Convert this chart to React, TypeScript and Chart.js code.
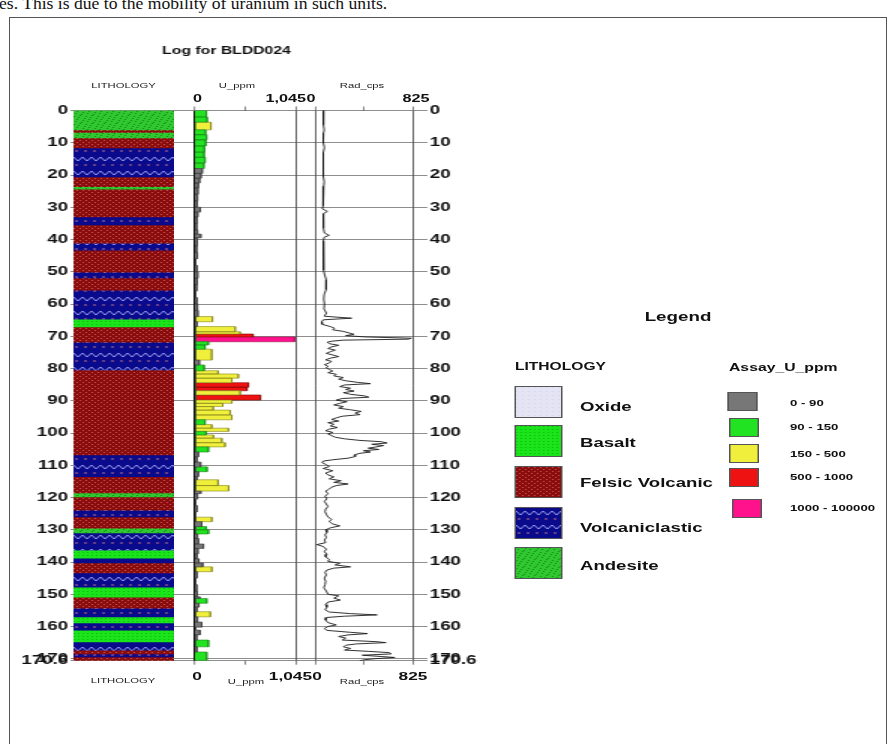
import React, { useEffect, useMemo, useRef } from 'react';
import { Chart, registerables } from 'chart.js';

Chart.register(...registerables);

// ---------------- data ----------------
const depthMax = 170.6;
const depthTicks = [0, 10, 20, 30, 40, 50, 60, 70, 80, 90, 100, 110, 120, 130, 140, 150, 160, 170, 170.6];

const lithologyNames = ['Oxide', 'Basalt', 'Felsic Volcanic', 'Volcaniclastic', 'Andesite'];

const lithologyBreaks = [
  0, 6, 6.8, 8.5, 11.6, 20.6, 23.6, 24.4, 33, 35.5,
  41.1, 43.3, 50.1, 51.9, 55.7, 64.7, 67.1, 71.8, 80.4, 106.8,
  113.5, 118.6, 119.8, 123.9, 126, 129.5, 131, 136.3, 138.8, 140.3,
  143.4, 147.8, 150.9, 154.3, 157, 158.9, 161.1, 164.8, 167.3, 168.5,
  169.4, 170.6,
];
const lithologyType = [
  'Andesite', 'Felsic Volcanic', 'Andesite', 'Felsic Volcanic', 'Volcaniclastic',
  'Felsic Volcanic', 'Andesite', 'Felsic Volcanic', 'Volcaniclastic', 'Felsic Volcanic',
  'Volcaniclastic', 'Felsic Volcanic', 'Volcaniclastic', 'Felsic Volcanic', 'Volcaniclastic',
  'Basalt', 'Felsic Volcanic', 'Volcaniclastic', 'Felsic Volcanic', 'Volcaniclastic',
  'Felsic Volcanic', 'Andesite', 'Felsic Volcanic', 'Volcaniclastic', 'Felsic Volcanic',
  'Andesite', 'Volcaniclastic', 'Basalt', 'Volcaniclastic', 'Felsic Volcanic',
  'Volcaniclastic', 'Basalt', 'Felsic Volcanic', 'Volcaniclastic', 'Basalt',
  'Volcaniclastic', 'Basalt', 'Volcaniclastic', 'Felsic Volcanic', 'Volcaniclastic',
  'Felsic Volcanic',
];

const assayBreaks = [
  0, 2, 3.6, 6, 7.5, 9.1, 11, 12.9, 14.5, 16.3,
  18, 19.5, 21, 22.5, 24, 26, 28, 30, 31.5, 33,
  35, 37, 38.3, 39.5, 42, 44, 46, 48, 50, 52,
  54, 56, 58, 60, 62, 63.9, 65.5, 67, 68.6, 69.3,
  70.2, 71.7, 72.7, 74, 77.4, 78.9, 80.7, 81.7, 83, 84.4,
  85.8, 86.9, 88.2, 89.8, 90.8, 91.8, 92.9, 94.4, 95.9, 97.4,
  98.5, 99.5, 100.6, 101.6, 103, 104.3, 105.9, 107.4, 109, 110.5,
  112, 113.5, 114.5, 116.3, 118, 118.8, 120.5, 122.5, 124.5, 126.1,
  127.5, 129, 130, 131.3, 132.7, 134.4, 135.8, 137.5, 139, 140.3,
  141.5, 143, 145, 147, 149, 150.8, 151.3, 152.8, 154, 155.4,
  157, 158.6, 160.2, 161.1, 162.6, 164.2, 166.3, 167.9, 170.5,
];
const assayU = [
  118, 126, 165, 110, 120, 112, 98, 95, 104, 92,
  75, 62, 48, 35, 30, 25, 22, 55, 28, 20,
  18, 25, 60, 22, 18, 24, 15, 20, 28, 22,
  18, 15, 20, 25, 30, 181, 20, 418, 470, 603,
  1035, 139, 104, 174, 45, 95, 240, 450, 383, 555,
  540, 470, 680, 383, 289, 190, 366, 383, 104, 175,
  348, 115, 192, 279, 313, 139, 35, 20, 58, 125,
  35, 20, 240, 350, 60, 25, 15, 20, 12, 175,
  70, 115, 140, 25, 35, 87, 30, 20, 40, 80,
  175, 20, 15, 18, 22, 50, 122, 40, 20, 160,
  25, 70, 15, 52, 18, 140, 20, 122,
];
const assayBinLabels = ['0 - 90', '90 - 150', '150 - 500', '500 - 1000', '1000 - 100000'];
const assayBinMin = [0, 90, 150, 500, 1000];
const assayBinColors = ['#777777', '#22e322', '#f0f03c', '#ee1212', '#ff128c'];
const assayBinBorders = ['#3c3c3c', '#158a15', '#85851c', '#870a0a', '#a0104f'];
const uTicks = [0, 522.5, 1045];

const radDepth = [
  0, 1.5, 3, 4.5, 6, 7, 8.5, 10, 11.5, 13,
  14.5, 16, 17.5, 19, 20.5, 22, 23.5, 25, 26.5, 28,
  29.5, 30.5, 31.3, 32, 33.5, 35, 36.5, 38, 38.7, 39.3,
  40.5, 42, 43.5, 45, 46.5, 48, 49.5, 51, 52.5, 54,
  55.5, 57, 58.5, 60, 61.5, 62.8, 63.8, 64.4, 64.9, 65.6,
  66.3, 67, 67.5, 68, 68.5, 69, 69.4, 69.8, 70.2, 70.6,
  70.9, 71.2, 71.5, 71.8, 72.3, 72.8, 73.3, 73.8, 74.3, 74.8,
  75.3, 75.8, 76.3, 76.8, 77.3, 77.8, 78.3, 78.8, 79.3, 79.8,
  80.3, 80.8, 81.3, 81.8, 82.3, 82.8, 83.3, 83.8, 84.3, 84.7,
  85.1, 85.6, 86.1, 86.5, 87, 87.5, 88, 88.5, 88.9, 89.3,
  89.8, 90.3, 90.8, 91.3, 91.8, 92.3, 92.8, 93.3, 93.8, 94.3,
  94.8, 95.3, 95.8, 96.3, 96.8, 97.3, 97.8, 98.3, 98.8, 99.3,
  99.8, 100.3, 100.8, 101.3, 101.8, 102.3, 102.7, 103.1, 103.5, 103.9,
  104.3, 104.7, 105.1, 105.5, 105.9, 106.3, 106.8, 107.3, 107.8, 108.3,
  108.7, 109.2, 109.8, 110.4, 111, 111.7, 112.4, 113, 113.6, 114.2,
  114.8, 115.3, 115.8, 116.3, 116.8, 117.4, 118, 118.8, 119.6, 120.4,
  121.2, 122, 122.8, 123.6, 124.4, 125.2, 126, 126.8, 127.5, 128.2,
  128.8, 129.4, 130, 130.8, 131.6, 132.4, 133.2, 134, 134.6, 135.2,
  136, 136.8, 137.6, 138.4, 139.2, 139.8, 140.4, 140.9, 141.5, 141.9,
  142.5, 143.2, 144, 145, 146, 147, 148, 149, 150, 150.5,
  151.2, 151.8, 152.4, 153.2, 154, 154.8, 155.5, 156, 156.4, 156.8,
  157.2, 158, 158.8, 159.5, 160, 160.6, 161.2, 161.8, 162.2, 162.6,
  163.1, 163.6, 164.2, 164.7, 165, 165.4, 165.8, 166.3, 166.8, 167.3,
  167.7, 168.1, 168.5, 168.9, 169.3, 169.6, 170, 170.3, 170.6,
];
const radCps = [
  72, 68, 75, 70, 78, 72, 66, 74, 80, 70,
  68, 76, 72, 65, 70, 78, 74, 70, 66, 72,
  68, 62, 105, 70, 74, 68, 72, 80, 120, 78,
  70, 74, 68, 72, 76, 70, 74, 82, 95, 90,
  98, 78, 74, 80, 76, 96, 80, 310, 70, 55,
  60, 130, 165, 150, 240, 290, 330, 260, 420, 815,
  790, 240, 150, 105, 120, 200, 140, 110, 170, 130,
  95, 150, 200, 130, 90, 140, 120, 80, 110, 95,
  120, 150, 110, 180, 160, 240, 200, 260, 360, 470,
  250, 210, 300, 260, 330, 240, 300, 420, 455, 230,
  180, 270, 210, 160, 240, 200, 300, 390, 340, 380,
  230, 180, 140, 200, 110, 160, 130, 190, 120, 90,
  150, 110, 140, 170, 250, 380, 560, 610, 480, 580,
  520, 450, 540, 410, 470, 380, 330, 340, 280, 150,
  70, 60, 95, 120, 70, 150, 90, 110, 160, 120,
  220, 160, 280, 180, 140, 120, 90, 110, 85, 100,
  80, 95, 110, 90, 85, 95, 110, 140, 120, 150,
  210, 130, 90, 100, 85, 95, 80, 90, 15, 70,
  95, 80, 100, 90, 120, 110, 210, 170, 300, 160,
  100, 85, 95, 80, 90, 85, 75, 95, 110, 200,
  160, 215, 110, 90, 100, 85, 120, 300, 525, 250,
  100, 90, 110, 180, 110, 80, 100, 300, 445, 280,
  200, 260, 230, 520, 600, 350, 260, 240, 300, 250,
  450, 630, 645, 400, 560, 675, 500, 420, 380,
];
const radTicks = [0, 412.5, 825];

// ---------------- layout constants ----------------
const S = 1.5; // the figure is stretched horizontally
const FONT = '"Liberation Sans", Arial, Helvetica, sans-serif';
const PLOT_TOP = 110.5;
const PLOT_BOTTOM = 744 - 660.7;
const A_LEFT = -22.63; // depth-axis canvas offset (virtual px)
const A_W = 348;

function makeTile(kind: string): HTMLCanvasElement {
  const c = document.createElement('canvas');
  const dims: Record<string, number[]> = {
    Oxide: [4, 4], Basalt: [3, 3], 'Felsic Volcanic': [4, 4], Volcaniclastic: [6, 14], Andesite: [8, 8],
  };
  const [w, h] = dims[kind];
  c.width = w;
  c.height = h;
  const g = c.getContext('2d')!;
  if (kind === 'Oxide') {
    g.fillStyle = '#e4e4f4'; g.fillRect(0, 0, w, h);
    g.fillStyle = '#d6d6ea'; g.fillRect(0, 0, 1, 1);
  } else if (kind === 'Basalt') {
    g.fillStyle = '#1ae41a'; g.fillRect(0, 0, w, h);
    g.fillStyle = '#10bb10'; g.fillRect(0, 0, 1, 1);
  } else if (kind === 'Felsic Volcanic') {
    g.fillStyle = '#8a0c0c'; g.fillRect(0, 0, w, h);
    g.fillStyle = '#c25454'; g.fillRect(0, 0, 1, 1); g.fillRect(2, 2, 1, 1);
  } else if (kind === 'Volcaniclastic') {
    g.fillStyle = '#0a0a8c'; g.fillRect(0, 0, w, h);
    g.strokeStyle = '#b4bcff'; g.lineWidth = 0.8;
    g.beginPath(); g.moveTo(0, 3); g.lineTo(3, 7); g.lineTo(6, 3); g.stroke();
    g.fillStyle = '#c07080'; g.fillRect(1, 10.5, 2, 1);
  } else {
    g.fillStyle = '#30c830'; g.fillRect(0, 0, w, h);
    g.fillStyle = '#178a17';
    [[1, 1], [5, 2], [3, 5], [7, 6], [0, 4], [6, 0], [2, 7], [4, 3]].forEach(([x, y]) => g.fillRect(x, y, 1, 1));
  }
  return c;
}

function binOf(v: number) {
  let b = 0;
  for (let i = 0; i < assayBinMin.length; i++) if (v >= assayBinMin[i]) b = i;
  return b;
}

function Label(props: any) {
  const { x, y, children, size, bold = true, align = 'center', color = '#111' } = props;
  const tx = align === 'center' ? '-50%' : align === 'right' ? '-100%' : '0';
  return (
    <div
      style={{
        position: 'absolute', left: x / S, top: y, transform: `translate(${tx}, -50%)`,
        fontFamily: FONT, fontSize: size, fontWeight: bold ? 700 : 400, color,
        whiteSpace: 'nowrap', lineHeight: 1,
      }}
    >
      {children}
    </div>
  );
}

const baseOpts = (padding: any) => ({
  responsive: false,
  animation: false,
  events: [],
  layout: { padding },
  plugins: { legend: { display: false }, tooltip: { enabled: false }, title: { display: false } },
});

const depthScale = { type: 'linear', display: false, reverse: true, min: 0, max: depthMax };

function panelGrid(mid: number, zeroDark: boolean) {
  return {
    color: (c: any) => {
      const v = c.tick ? c.tick.value : 0;
      if (v === mid) return 'rgba(0,0,0,0)';
      if (v === 0 && zeroDark) return '#111';
      return '#555';
    },
    lineWidth: (c: any) => (c.tick && c.tick.value === 0 && zeroDark ? 1.3 : 0.9),
    tickColor: '#666',
    tickLength: 4,
    tickWidth: 0.8,
    drawTicks: true,
  };
}

export default function App() {
  const aRef = useRef<HTMLCanvasElement>(null);
  const lRef = useRef<HTMLCanvasElement>(null);
  const uRef = useRef<HTMLCanvasElement>(null);
  const rRef = useRef<HTMLCanvasElement>(null);

  const tileUrls = useMemo(() => {
    const o: Record<string, string> = {};
    lithologyNames.forEach((n) => { o[n] = makeTile(n).toDataURL(); });
    return o;
  }, []);

  useEffect(() => {
    const charts: Chart[] = [];

    // depth axes, grid and title
    const depthTickOpts = {
      autoSkip: false, padding: 1.5, color: '#111',
      font: { family: FONT, size: 12.5, weight: 'bold' },
      callback: (v: any) => String(v),
    };
    charts.push(new Chart(aRef.current!, {
      type: 'scatter',
      data: { datasets: [] },
      options: {
        ...baseOpts({ left: 0, right: 0, top: 0, bottom: PLOT_BOTTOM }),
        plugins: {
          legend: { display: false }, tooltip: { enabled: false },
          title: {
            display: true, text: 'Log for BLDD024', color: '#111',
            font: { family: FONT, size: 10.5, weight: 'bold', lineHeight: 1.2 },
            padding: { top: 44.7, bottom: PLOT_TOP - 44.7 - 12.6 },
          },
        },
        scales: {
          x: { type: 'linear', display: false, min: 0, max: 1 },
          y: {
            type: 'linear', position: 'left', reverse: true, min: 0, max: depthMax,
            afterBuildTicks: (s: any) => { s.ticks = depthTicks.map((v) => ({ value: v })); },
            afterFit: (s: any) => { s.width = 71 / S - A_LEFT; },
            ticks: depthTickOpts,
            grid: { color: '#8e8e8e', lineWidth: 1, drawTicks: false },
            border: { display: false },
          },
          y2: {
            type: 'linear', position: 'right', reverse: true, min: 0, max: depthMax,
            afterBuildTicks: (s: any) => { s.ticks = depthTicks.map((v) => ({ value: v })); },
            afterFit: (s: any) => { s.width = A_W - (428 / S - A_LEFT); },
            ticks: depthTickOpts,
            grid: { drawOnChartArea: false, drawTicks: false },
            border: { display: false },
          },
        },
      } as any,
    }));

    // lithology column
    const lctx = lRef.current!.getContext('2d')!;
    const patterns: Record<string, any> = {};
    lithologyNames.forEach((n) => { patterns[n] = lctx.createPattern(makeTile(n), 'repeat'); });
    charts.push(new Chart(lRef.current!, {
      type: 'bar',
      data: {
        labels: ['LITHOLOGY'],
        datasets: lithologyType.map((t, i) => ({
          label: t,
          data: [[lithologyBreaks[i], lithologyBreaks[i + 1]]],
          backgroundColor: patterns[t],
          borderWidth: 0,
          grouped: false,
          barPercentage: 1,
          categoryPercentage: 1,
        })),
      },
      options: {
        ...baseOpts({ left: 0, right: 0, top: PLOT_TOP, bottom: PLOT_BOTTOM }),
        scales: { x: { type: 'category', display: false }, y: depthScale },
      } as any,
    }));

    // U_ppm assay bars (one closed shape per colour class)
    const uSets = assayBinLabels.map((lab, b) => {
      const pts: any[] = [];
      assayU.forEach((v, i) => {
        if (binOf(v) !== b) return;
        const top = assayBreaks[i];
        const base = assayBreaks[i + 1];
        pts.push({ x: 0, y: top }, { x: v, y: top }, { x: v, y: base }, { x: 0, y: base });
      });
      return {
        type: 'line', label: lab, data: pts, fill: 'shape',
        backgroundColor: assayBinColors[b], borderColor: assayBinBorders[b],
        borderWidth: 0.6, pointRadius: 0, tension: 0,
      };
    }).filter((d) => d.data.length);
    charts.push(new Chart(uRef.current!, {
      type: 'line',
      data: { datasets: uSets as any },
      options: {
        ...baseOpts({ left: 4, right: 4, top: PLOT_TOP - 4, bottom: PLOT_BOTTOM - 4 }),
        scales: {
          x: {
            type: 'linear', position: 'top', min: 0, max: 1045,
            afterBuildTicks: (s: any) => { s.ticks = uTicks.map((v) => ({ value: v })); },
            ticks: { display: false }, grid: panelGrid(522.5, true), border: { display: false },
          },
          x2: {
            type: 'linear', position: 'bottom', min: 0, max: 1045,
            afterBuildTicks: (s: any) => { s.ticks = uTicks.map((v) => ({ value: v })); },
            ticks: { display: false }, grid: { ...panelGrid(522.5, true), drawOnChartArea: false },
            border: { display: false },
          },
          y: depthScale,
        },
      } as any,
    }));

    // Rad_cps trace
    charts.push(new Chart(rRef.current!, {
      type: 'line',
      data: {
        datasets: [{
          label: 'Rad_cps',
          data: radDepth.map((d, i) => ({ x: radCps[i], y: d })),
          borderColor: '#1c1c1c', borderWidth: 0.9, pointRadius: 0, fill: false, tension: 0,
        }],
      },
      options: {
        ...baseOpts({ left: 4, right: 4, top: PLOT_TOP - 4, bottom: PLOT_BOTTOM - 4 }),
        scales: {
          x: {
            type: 'linear', position: 'top', min: 0, max: 825,
            afterBuildTicks: (s: any) => { s.ticks = radTicks.map((v) => ({ value: v })); },
            ticks: { display: false }, grid: panelGrid(412.5, false), border: { display: false },
          },
          x2: {
            type: 'linear', position: 'bottom', min: 0, max: 825,
            afterBuildTicks: (s: any) => { s.ticks = radTicks.map((v) => ({ value: v })); },
            ticks: { display: false }, grid: { ...panelGrid(412.5, false), drawOnChartArea: false },
            border: { display: false },
          },
          y: depthScale,
        },
      } as any,
    }));

    return () => charts.forEach((c) => c.destroy());
  }, []);

  const canvasStyle = (left: number): React.CSSProperties => ({ position: 'absolute', left, top: 0 });

  const lithSwatchTop = [386, 425, 466, 507, 547];
  const lithLabelY = [407, 443, 483, 528, 566];
  const assaySwatchPos = [[728, 392], [729, 418], [729, 444], [729, 468], [732, 499]];
  const assayLabelY = [403, 427, 454, 477, 508];

  return (
    <div style={{ position: 'absolute', left: 0, top: 0, width: 890, height: 744, overflow: 'hidden', background: '#fff' }}>
      <div
        style={{
          position: 'absolute', left: -1, top: -7, fontFamily: '"Liberation Serif", "Times New Roman", serif',
          fontSize: 17.6, lineHeight: '20px', whiteSpace: 'nowrap', color: '#111',
        }}
      >
        es. This is due to the mobility of uranium in such units.
      </div>
      <div
        style={{
          position: 'absolute', left: 9, top: 17, width: 878, height: 760,
          border: '1px solid #555', boxSizing: 'border-box',
        }}
      />
      <div
        style={{
          position: 'absolute', left: 0, top: 0, width: 890 / S, height: 744,
          transform: `scaleX(${S})`, transformOrigin: '0 0',
        }}
      >
        <canvas ref={aRef} width={A_W} height={744} style={canvasStyle(A_LEFT)} />
        <canvas ref={lRef} width={67} height={744} style={canvasStyle(74 / S)} />
        <canvas ref={uRef} width={75} height={744} style={canvasStyle(126)} />
        <canvas ref={rRef} width={73} height={744} style={canvasStyle(206)} />

        {/* column headers */}
        <Label x={123.5} y={86} size={7.5} bold={false} color="#222">LITHOLOGY</Label>
        <Label x={237} y={86} size={7.5} bold={false} color="#222">U_ppm</Label>
        <Label x={362} y={86} size={7.5} bold={false} color="#222">Rad_cps</Label>
        <Label x={197.5} y={98} size={10.8}>0</Label>
        <Label x={306} y={98} size={10.8} align="right">1,045</Label>
        <Label x={311} y={98} size={10.8}>0</Label>
        <Label x={416} y={98} size={10.8}>825</Label>

        {/* column footers */}
        <Label x={123} y={681} size={7.5} bold={false} color="#222">LITHOLOGY</Label>
        <Label x={197} y={677} size={11.5}>0</Label>
        <Label x={246} y={682} size={7.5} bold={false} color="#222">U_ppm</Label>
        <Label x={312} y={677} size={11.5} align="right">1,045</Label>
        <Label x={317} y={677} size={11.5}>0</Label>
        <Label x={362} y={682} size={7.5} bold={false} color="#222">Rad_cps</Label>
        <Label x={413} y={677} size={11.5}>825</Label>

        {/* legend */}
        <Label x={678} y={317} size={12.5}>Legend</Label>
        <Label x={515} y={367} size={10.4} align="left">LITHOLOGY</Label>
        <Label x={729} y={367} size={10.5} align="left">Assay_U_ppm</Label>
        {lithologyNames.map((n, i) => (
          <React.Fragment key={n}>
            <div
              style={{
                position: 'absolute', left: 514 / S, top: lithSwatchTop[i], width: 49 / S, height: 32,
                boxSizing: 'border-box', border: '1px solid #555',
                backgroundImage: `url(${tileUrls[n]})`, backgroundRepeat: 'repeat',
              }}
            />
            <Label x={580} y={lithLabelY[i]} size={12.4} align="left">{n}</Label>
          </React.Fragment>
        ))}
        {assayBinLabels.map((lab, i) => (
          <React.Fragment key={lab}>
            <div
              style={{
                position: 'absolute', left: assaySwatchPos[i][0] / S, top: assaySwatchPos[i][1],
                width: 30 / S, height: 19, boxSizing: 'border-box',
                border: '1px solid #555', background: assayBinColors[i],
              }}
            />
            <Label x={790} y={assayLabelY[i]} size={8.8} align="left">{lab}</Label>
          </React.Fragment>
        ))}
      </div>
    </div>
  );
}
